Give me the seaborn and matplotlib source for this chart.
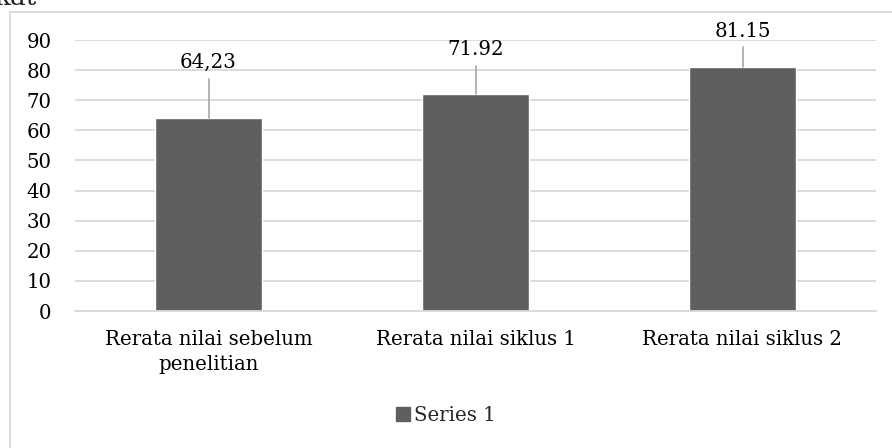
import matplotlib.pyplot as plt
import matplotlib.patches as mpatches
import seaborn as sns
import pandas as pd

# data
categories = ['Rerata nilai sebelum\npenelitian', 'Rerata nilai siklus 1', 'Rerata nilai siklus 2']
values = [64.23, 71.92, 81.15]
value_labels = ['64,23', '71.92', '81.15']
label_y = [82.7, 86.7, 92.7]
leader_top = [77.0, 81.4, 87.7]
y_ticks = [0, 10, 20, 30, 40, 50, 60, 70, 80, 90]
series_name = 'Series 1'

sns.set_theme(style='white')
plt.rcParams['font.family'] = ['DejaVu Serif']

bar_color = '#5f5f5f'
grid_color = '#d9d9d9'
fs = 14.2

fig = plt.figure(figsize=(8.92, 4.48), dpi=100)
ax = fig.add_axes([75 / 892, 1 - 311 / 448, 801 / 892, (311 - 40) / 448])

df = pd.DataFrame({'cat': categories, 'val': values})
sns.barplot(data=df, x='cat', y='val', color=bar_color, width=0.4,
            saturation=1, ax=ax, label=series_name)

ax.set_xlim(-0.5, 2.5)
ax.set_ylim(0, 90)
ax.set_yticks(y_ticks)
ax.set_yticklabels([str(t) for t in y_ticks])
ax.set_xlabel('')
ax.set_ylabel('')
ax.tick_params(axis='both', labelsize=fs, length=0, colors='#000000')
ax.tick_params(axis='y', pad=17)
ax.tick_params(axis='x', pad=14)
for lbl in ax.get_xticklabels():
    lbl.set_linespacing(1.4)
ax.yaxis.grid(True, color=grid_color, linewidth=1.3)
ax.set_axisbelow(True)
for s in ['top', 'right', 'left']:
    ax.spines[s].set_visible(False)
ax.spines['bottom'].set_color(grid_color)
ax.spines['bottom'].set_linewidth(1.3)

for i, v in enumerate(values):
    ax.plot([i, i], [v, leader_top[i]], color='#a6a6a6', linewidth=1.2, clip_on=False)
    ax.text(i, label_y[i], value_labels[i], ha='center', va='center',
            fontsize=fs, color='#000000', clip_on=False)

ax.legend(handles=[mpatches.Patch(color=bar_color, label=series_name)],
          loc='center', bbox_to_anchor=(0.5, 1 - 415 / 448), bbox_transform=fig.transFigure,
          frameon=False, fontsize=fs, handlelength=0.7, handleheight=0.7,
          handletextpad=0.2)

# outer chart border
fig.patches.append(mpatches.Rectangle((10 / 892, -0.01), 1.0, 1 - 12 / 448 + 0.01,
                                      transform=fig.transFigure, fill=False,
                                      edgecolor=grid_color, linewidth=1.3))
# cut off text from the page above the chart
fig.text(-6 / 892, 1 - 5 / 448, 'kat', fontsize=19, ha='left', va='baseline')

fig.savefig('out.png', dpi=100)
